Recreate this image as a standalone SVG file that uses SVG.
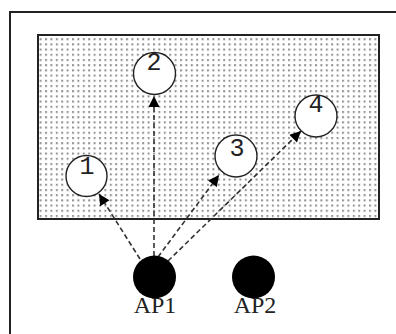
<svg xmlns="http://www.w3.org/2000/svg" width="396" height="334" viewBox="0 0 396 334">
  <defs>
    <!-- stipple fill for the coverage area -->
    <pattern id="stipple" x="0" y="0" width="5.4" height="5.2" patternUnits="userSpaceOnUse">
      <rect x="1.8" y="1.8" width="2" height="2" fill="#8f8f8f"/>
    </pattern>
    <marker id="arrow" viewBox="0 0 10 10" refX="10" refY="5" markerWidth="12" markerHeight="11" markerUnits="userSpaceOnUse" orient="auto">
      <path d="M0,0 L10,5 L0,10 z" fill="#000"/>
    </marker>
    <style>
      .frame { fill: #fff; stroke: #222; stroke-width: 2; }
      .area { fill: url(#stipple); stroke: #222; stroke-width: 2; }
      .station { fill: #fff; stroke: #222; stroke-width: 1.4; }
      .ap { fill: #000; stroke: none; }
      .link { fill: none; stroke: #333; stroke-width: 1.6; stroke-dasharray: 5 3; marker-end: url(#arrow); }
      .num { font-family: "Liberation Mono", monospace; font-size: 25px; fill: #222; text-anchor: middle; }
      .aplabel { font-family: "Liberation Serif", serif; font-size: 24px; fill: #222; text-anchor: middle; }
    </style>
  </defs>

  <rect width="396" height="334" fill="#fff"/>
  <!-- outer frame, running off the right and bottom edges -->
  <rect class="frame" x="10" y="12" width="400" height="340"/>
  <!-- coverage area -->
  <rect class="area" x="38" y="35" width="341" height="184"/>

  <g id="connectors">
    <line class="link" x1="140" y1="259" x2="99" y2="194"/>
    <line class="link" x1="154" y1="256" x2="154" y2="96"/>
    <line class="link" x1="158" y1="257" x2="219" y2="175"/>
    <line class="link" x1="168" y1="261" x2="301" y2="131"/>
  </g>

  <g id="node-1">
    <circle class="station" cx="86.5" cy="176" r="20.5"/>
    <text class="num" x="87" y="174">1</text>
  </g>
  <g id="node-2">
    <circle class="station" cx="154.5" cy="73.5" r="21"/>
    <text class="num" x="154" y="70">2</text>
  </g>
  <g id="node-3">
    <circle class="station" cx="236" cy="156" r="21"/>
    <text class="num" x="237" y="156">3</text>
  </g>
  <g id="node-4">
    <circle class="station" cx="316" cy="116" r="21"/>
    <text class="num" x="316" y="112">4</text>
  </g>

  <g id="ap1">
    <circle class="ap" cx="154.5" cy="277" r="21.5"/>
    <text class="aplabel" x="155" y="313">AP1</text>
  </g>
  <g id="ap2">
    <circle class="ap" cx="253.5" cy="277" r="21.5"/>
    <text class="aplabel" x="255" y="313">AP2</text>
  </g>
</svg>
